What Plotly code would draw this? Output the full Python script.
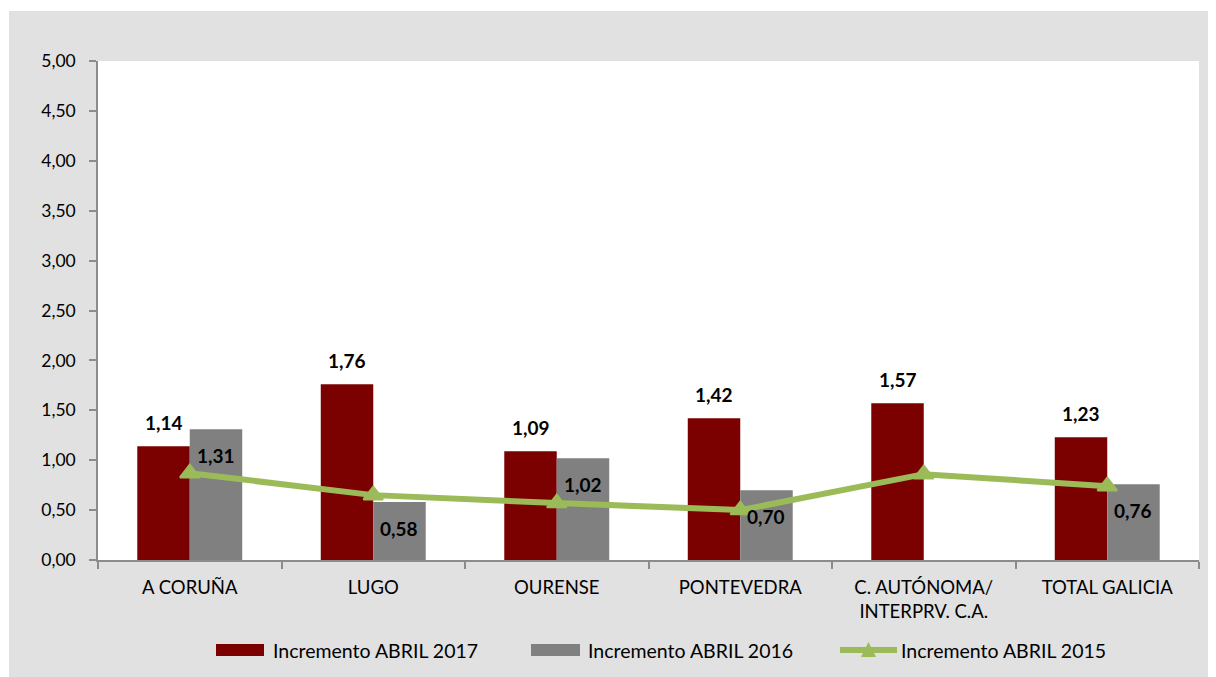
import plotly.graph_objects as go

# ---------------- data ----------------
categories = ["A CORUÑA", "LUGO", "OURENSE", "PONTEVEDRA",
              "C. AUTÓNOMA/<br>INTERPRV. C.A.", "TOTAL GALICIA"]
inc_2017 = [1.14, 1.76, 1.09, 1.42, 1.57, 1.23]
inc_2016 = [1.31, 0.58, 1.02, 0.70, None, 0.76]
inc_2015 = [0.87, 0.65, 0.57, 0.50, 0.86, 0.74]
series_names = ["Incremento ABRIL 2017", "Incremento ABRIL 2016", "Incremento ABRIL 2015"]
y_ticks = [0, 0.5, 1.0, 1.5, 2.0, 2.5, 3.0, 3.5, 4.0, 4.5, 5.0]

# ---------------- style ----------------
OFF = 8                      # page body margin of the html page
PAGE_W, PAGE_H = 1216, 677
W, H = PAGE_W - OFF, PAGE_H - OFF
# plot area in page pixels: x 98..1199, y 61..560
L, R, T, B = 98 - OFF, PAGE_W - 1199, 61 - OFF, PAGE_H - 560
PW, PH = W - L - R, H - T - B
FONT = "Lato"
RED = "#7B0000"
GRAY = "#808080"
GREEN = "#9BBB59"
BG = "#E1E1E1"
AX = "#8C8C8C"
BARGAP = 0.428
BAR_OFF = (1 - BARGAP) / 4  # centre offset of each bar in category units
N = len(categories)
boundaries = [i - 0.5 for i in range(N + 1)]


def px_x(px):  # page pixel -> paper fraction
    return (px - OFF - L) / PW


def px_y(py):
    return (H - B - (py - OFF)) / PH


def fmt(v):
    return f"{v:.2f}".replace(".", ",")


fig = go.Figure()
fig.add_trace(go.Bar(x=categories, y=inc_2017, name=series_names[0],
                     marker=dict(color=RED, line=dict(width=0))))
fig.add_trace(go.Bar(x=categories, y=inc_2016, name=series_names[1],
                     marker=dict(color=GRAY, line=dict(width=0))))
fig.add_trace(go.Scatter(x=categories, y=inc_2015, name=series_names[2],
                         mode="lines+markers",
                         line=dict(color=GREEN, width=6),
                         marker=dict(symbol="triangle-up", size=17, color=GREEN,
                                     line=dict(color=GREEN, width=2))))

LBL_FONT = dict(family=FONT, size=19, color="#000000", weight="bold")
annotations = []
for i, v in enumerate(inc_2017):
    annotations.append(dict(x=i - BAR_OFF, y=v, xref="x", yref="y", text=fmt(v),
                            showarrow=False, yanchor="middle", yshift=24,
                            font=LBL_FONT))
for i, v in enumerate(inc_2016):
    if v is None:
        continue
    annotations.append(dict(x=i + BAR_OFF, y=v, xref="x", yref="y", text=fmt(v),
                            showarrow=False, yanchor="middle", yshift=-26,
                            font=LBL_FONT))

shapes = [
    # white margin strips around the grey chart area
    dict(type="rect", xref="paper", yref="paper", layer="above",
         x0=px_x(0), x1=px_x(9), y0=px_y(PAGE_H + 5), y1=px_y(0),
         fillcolor="white", line=dict(width=0)),
    dict(type="rect", xref="paper", yref="paper", layer="above",
         x0=px_x(0), x1=px_x(PAGE_W + 5), y0=px_y(11), y1=px_y(0),
         fillcolor="white", line=dict(width=0)),
    # manual legend
    dict(type="rect", xref="paper", yref="paper", layer="above",
         x0=px_x(216), x1=px_x(264), y0=px_y(656), y1=px_y(644),
         fillcolor=RED, line=dict(width=0)),
    dict(type="rect", xref="paper", yref="paper", layer="above",
         x0=px_x(531), x1=px_x(580), y0=px_y(656), y1=px_y(644),
         fillcolor=GRAY, line=dict(width=0)),
    dict(type="line", xref="paper", yref="paper", layer="above",
         x0=px_x(840), x1=px_x(897), y0=px_y(650), y1=px_y(650),
         line=dict(color=GREEN, width=6)),
    dict(type="path", xref="paper", yref="paper", layer="above",
         path=f"M {px_x(861)},{px_y(657)} L {px_x(876)},{px_y(657)} L {px_x(868.5)},{px_y(642)} Z",
         fillcolor=GREEN, line=dict(color=GREEN, width=0)),
]
for xpx, name in zip([271, 586, 899], series_names):
    annotations.append(dict(x=px_x(xpx), y=px_y(650), xref="paper", yref="paper",
                            text=name, showarrow=False, xanchor="left", yanchor="middle",
                            font=dict(family=FONT, size=19.5, color="#000000")))

fig.update_layout(
    width=W, height=H,
    margin=dict(l=L, r=R, t=T, b=B, pad=0),
    paper_bgcolor=BG, plot_bgcolor="white",
    barmode="group", bargap=BARGAP, bargroupgap=0,
    showlegend=False,
    separators=",.",
    font=dict(family=FONT, size=17, color="#000000"),
    annotations=annotations, shapes=shapes,
    xaxis=dict(categoryorder="array", categoryarray=categories,
               range=[-0.5, N - 0.5],
               showline=True, linecolor=AX, linewidth=1.5,
               ticks="outside", tickson="boundaries", ticklen=7, tickcolor=AX,
               tickwidth=1.5, showgrid=False, zeroline=False, ticklabelstandoff=10,
               tickfont=dict(family=FONT, size=18.5, color="#000000")),
    yaxis=dict(range=[0, 5], tickvals=y_ticks, tickformat=".2f",
               showline=True, linecolor=AX, linewidth=1.5,
               ticks="outside", ticklen=7, tickcolor=AX, tickwidth=1.5,
               showgrid=False, zeroline=False, ticklabelstandoff=10,
               tickfont=dict(family=FONT, size=17.5, color="#000000")),
    # companion axes that draw the inner half of the crossing tick marks
    xaxis2=dict(overlaying="x", anchor="y", side="bottom", type="linear",
                range=[-0.5, N - 0.5], tickmode="array", tickvals=boundaries,
                ticks="inside", ticklen=6, tickcolor=AX, tickwidth=1.5,
                showticklabels=False, showline=False, showgrid=False, zeroline=False),
    yaxis2=dict(overlaying="y", anchor="x", side="left", type="linear",
                range=[0, 5], tickmode="array", tickvals=y_ticks,
                ticks="inside", ticklen=6, tickcolor=AX, tickwidth=1.5,
                showticklabels=False, showline=False, showgrid=False, zeroline=False),
)

fig.write_html("out.html")
